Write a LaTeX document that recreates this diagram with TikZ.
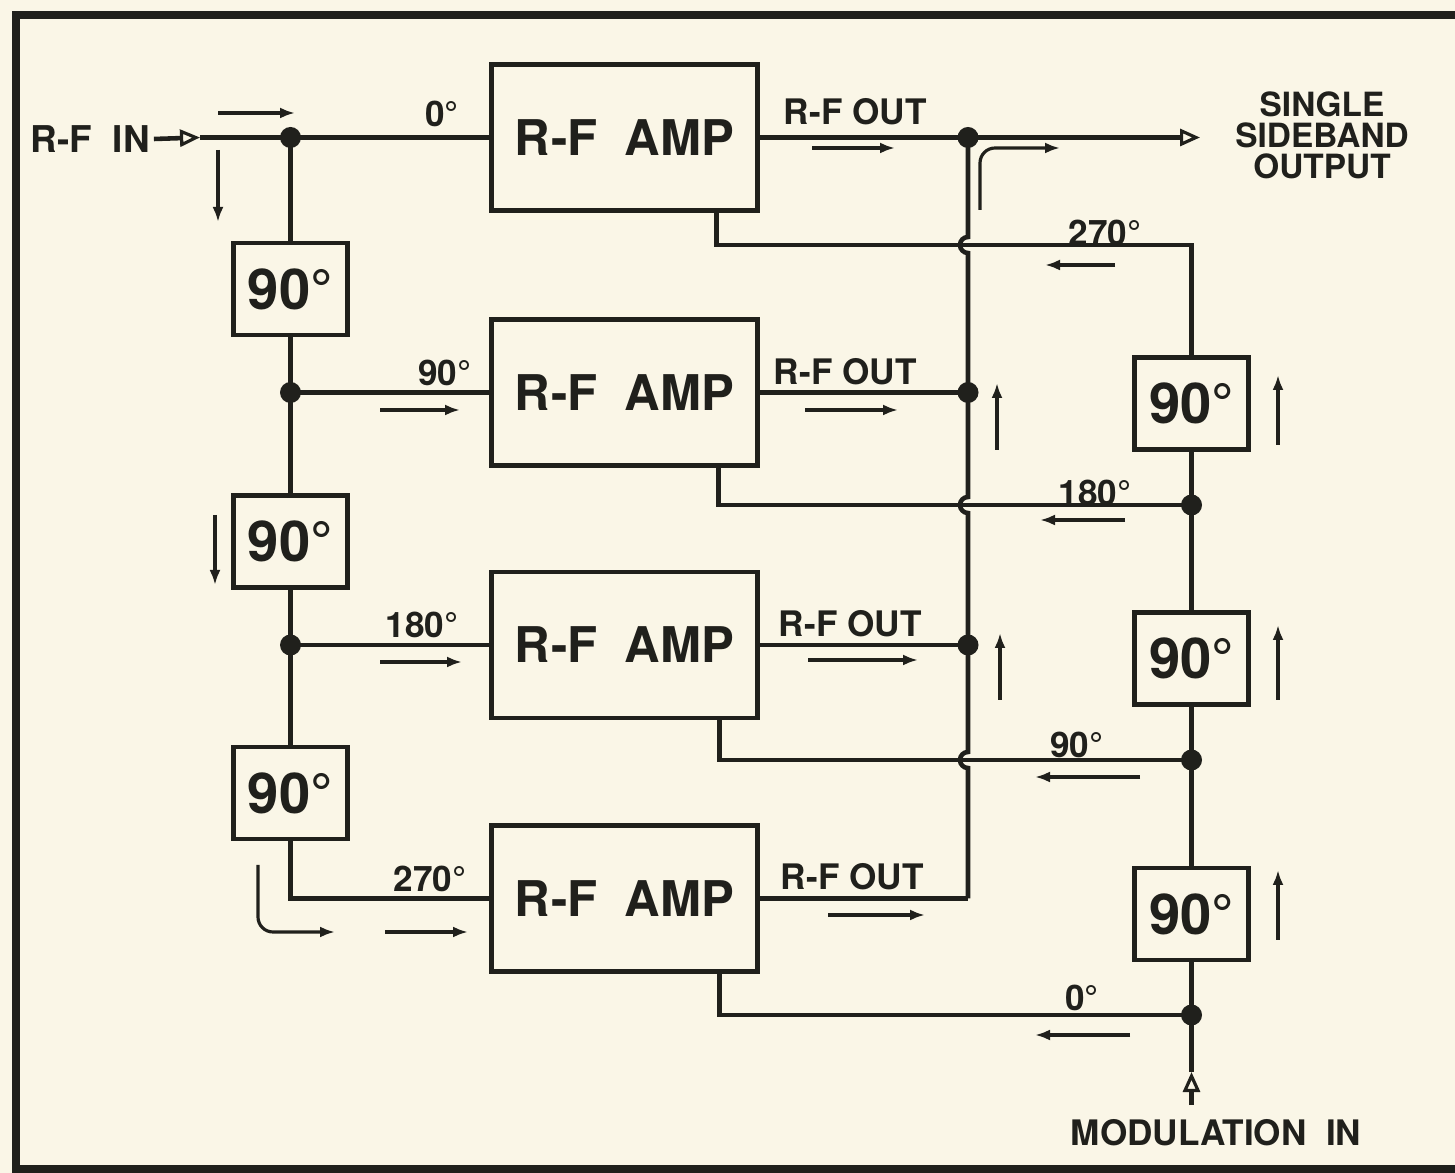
\documentclass[tikz,border=0pt]{standalone}
\usepackage{fontspec}
\setmainfont{TeX Gyre Heros}
\usetikzlibrary{arrows.meta}
\definecolor{paper}{RGB}{250,246,231}
\definecolor{ink}{RGB}{32,32,28}
\newcommand{\ampfont}{\fontsize{14}{16}\selectfont\bfseries}
\newcommand{\degfont}{\fontsize{16}{18}\selectfont\bfseries}
\newcommand{\labfont}{\fontsize{10}{11}\selectfont\bfseries}

\begin{document}
\begin{tikzpicture}[
  wire/.style={ink,line width=1.3pt},
  amp/.style={draw=ink,line width=1.3pt,minimum width=2.66cm,minimum height=1.46cm,
    inner sep=0pt,font=\ampfont,text=ink},
  shifter/.style={draw=ink,line width=1.3pt,minimum width=1.14cm,minimum height=0.92cm,
    inner sep=0pt,font=\degfont,text=ink},
  jdot/.style={circle,fill=ink,inner sep=0pt,minimum size=0.21cm},
  flow/.style={ink,line width=0.9pt,-{Latex[length=0.15cm,width=0.11cm]}},
  port/.style={wire,-{Triangle[open,length=0.2cm,width=0.17cm,line width=0.9pt,fill=paper]}},
  lab/.style={font=\labfont,text=ink,inner sep=1pt}
]
\useasboundingbox[fill=paper] (0,0) rectangle (14.55,-11.73);
\draw[ink,line width=2pt] (14.55,-0.15) -- (0.16,-0.15) -- (0.16,-11.69) -- (14.55,-11.69);
%% ─── Amplifiers and phase shifters ──────────────────────────────────────────
\node[amp] (amp1) at (6.245,-1.375) {R-F\ \ AMP};
\node[amp] (amp2) at (6.245,-3.925) {R-F\ \ AMP};
\node[amp] (amp3) at (6.245,-6.450) {R-F\ \ AMP};
\node[amp] (amp4) at (6.245,-8.985) {R-F\ \ AMP};
\node[shifter] (ls1) at (2.905,-2.890) {90°};
\node[shifter] (ls2) at (2.905,-5.415) {90°};
\node[shifter] (ls3) at (2.905,-7.930) {90°};
\node[shifter] (rs1) at (11.915,-4.035) {90°};
\node[shifter] (rs2) at (11.915,-6.585) {90°};
\node[shifter] (rs3) at (11.915,-9.140) {90°};
%% ─── Left panel: R-F feed ───────────────────────────────────────────────────
\coordinate (j0) at (2.905,-1.375);
\coordinate (j1) at (2.905,-3.925);
\coordinate (j2) at (2.905,-6.450);
\coordinate (intip) at (2.00,-1.375);
\node[lab,font=\fontsize{10.5}{11}\selectfont\bfseries] (rfin) at (0.90,-1.39) {R-F\ \ IN};
\draw[port] (rfin.east) -- (intip);
\draw[wire] (intip) -- (j0) -- (amp1.west);
\draw[wire] (j0) -- (ls1.north) (ls1.south) -- (j1) -- (ls2.north) (ls2.south) -- (j2) -- (ls3.north);
\draw[wire] (j1) -- (amp2.west) (j2) -- (amp3.west);
\draw[wire] (ls3.south) |- (amp4.west);
\node[lab] at (4.42,-1.14) {0°};
\node[lab] at (4.45,-3.73) {90°};
\node[lab] at (4.22,-6.25) {180°};
\node[lab] at (4.30,-8.79) {270°};
\draw[flow] (2.18,-1.13) -- (2.95,-1.13);
\draw[flow] (2.18,-1.50) -- (2.18,-2.22);
\draw[flow] (2.15,-5.15) -- (2.15,-5.85);
\draw[flow] (3.80,-4.10) -- (4.60,-4.10);
\draw[flow] (3.80,-6.62) -- (4.62,-6.62);
\draw[flow,rounded corners=0.15cm] (2.58,-8.65) |- (3.35,-9.32);
\draw[flow] (3.85,-9.32) -- (4.68,-9.32);
%% ─── Output bus ─────────────────────────────────────────────────────────────
\coordinate (bo1) at (9.68,-1.375);
\coordinate (bo2) at (9.68,-3.925);
\coordinate (bo3) at (9.68,-6.450);
\coordinate (bo4) at (9.68,-8.985);
\coordinate (outtip) at (12.00,-1.375);
\draw[wire] (amp1.east) -- (bo1) (amp2.east) -- (bo2) (amp3.east) -- (bo3) (amp4.east) -- (bo4);
\draw[wire] (bo4) -- (9.68,-7.68) arc[start angle=-90,end angle=-270,radius=0.08]
  -- (9.68,-5.13) arc[start angle=-90,end angle=-270,radius=0.08]
  -- (9.68,-2.53) arc[start angle=-90,end angle=-270,radius=0.08] -- (bo1);
\draw[port] (bo1) -- (outtip);
\node[lab,align=center,font=\fontsize{9.5}{8.8}\selectfont\bfseries] (ssb) at (13.22,-1.35)
  {SINGLE\\SIDEBAND\\OUTPUT};
\node[lab] at (8.55,-1.12) {R-F\ OUT};
\node[lab] at (8.45,-3.72) {R-F\ OUT};
\node[lab] at (8.50,-6.24) {R-F\ OUT};
\node[lab] at (8.52,-8.77) {R-F\ OUT};
\draw[flow] (8.12,-1.48) -- (8.95,-1.48);
\draw[flow] (8.05,-4.10) -- (8.98,-4.10);
\draw[flow] (8.08,-6.60) -- (9.18,-6.60);
\draw[flow] (8.28,-9.15) -- (9.25,-9.15);
\draw[flow,rounded corners=0.15cm] (9.80,-2.10) |- (10.60,-1.48);
\draw[flow] (9.97,-4.50) -- (9.97,-3.83);
\draw[flow] (10.00,-7.00) -- (10.00,-6.33);
%% ─── Right panel: modulation feed ───────────────────────────────────────────
\coordinate (t1) at ([xshift=0.92cm]amp1.south);
\coordinate (t2) at ([xshift=0.94cm]amp2.south);
\coordinate (t3) at ([xshift=0.95cm]amp3.south);
\coordinate (t4) at ([xshift=0.95cm]amp4.south);
\coordinate (c270) at (11.915,-2.45);
\coordinate (jr1) at (11.915,-5.05);
\coordinate (jr2) at (11.915,-7.60);
\coordinate (jr3) at (11.915,-10.15);
\coordinate (modtip) at (11.915,-10.72);
\coordinate (modbot) at (11.915,-11.05);
\draw[wire] (t1) |- (c270) -- (rs1.north);
\draw[wire] (t2) |- (jr1) (t3) |- (jr2) (t4) |- (jr3);
\draw[wire] (rs1.south) -- (jr1) -- (rs2.north) (rs2.south) -- (jr2) -- (rs3.north) (rs3.south) -- (jr3);
\draw[wire] (modtip) -- (jr3);
\draw[port] (modbot) -- (modtip);
\node[lab,font=\fontsize{10}{11}\selectfont\bfseries] (modin) at (12.16,-11.33) {MODULATION\ \ IN};
\node[lab] at (11.05,-2.33) {270°};
\node[lab] at (10.95,-4.93) {180°};
\node[lab] at (10.77,-7.45) {90°};
\node[lab] at (10.82,-9.98) {0°};
\draw[flow] (11.15,-2.65) -- (10.45,-2.65);
\draw[flow] (11.25,-5.20) -- (10.40,-5.20);
\draw[flow] (11.40,-7.77) -- (10.35,-7.77);
\draw[flow] (11.30,-10.35) -- (10.35,-10.35);
\draw[flow] (12.78,-4.45) -- (12.78,-3.75);
\draw[flow] (12.78,-7.00) -- (12.78,-6.25);
\draw[flow] (12.78,-9.40) -- (12.78,-8.70);
\foreach \p in {j0,j1,j2,bo1,bo2,bo3,jr1,jr2,jr3} \node[jdot] at (\p) {};
\end{tikzpicture}
\end{document}
